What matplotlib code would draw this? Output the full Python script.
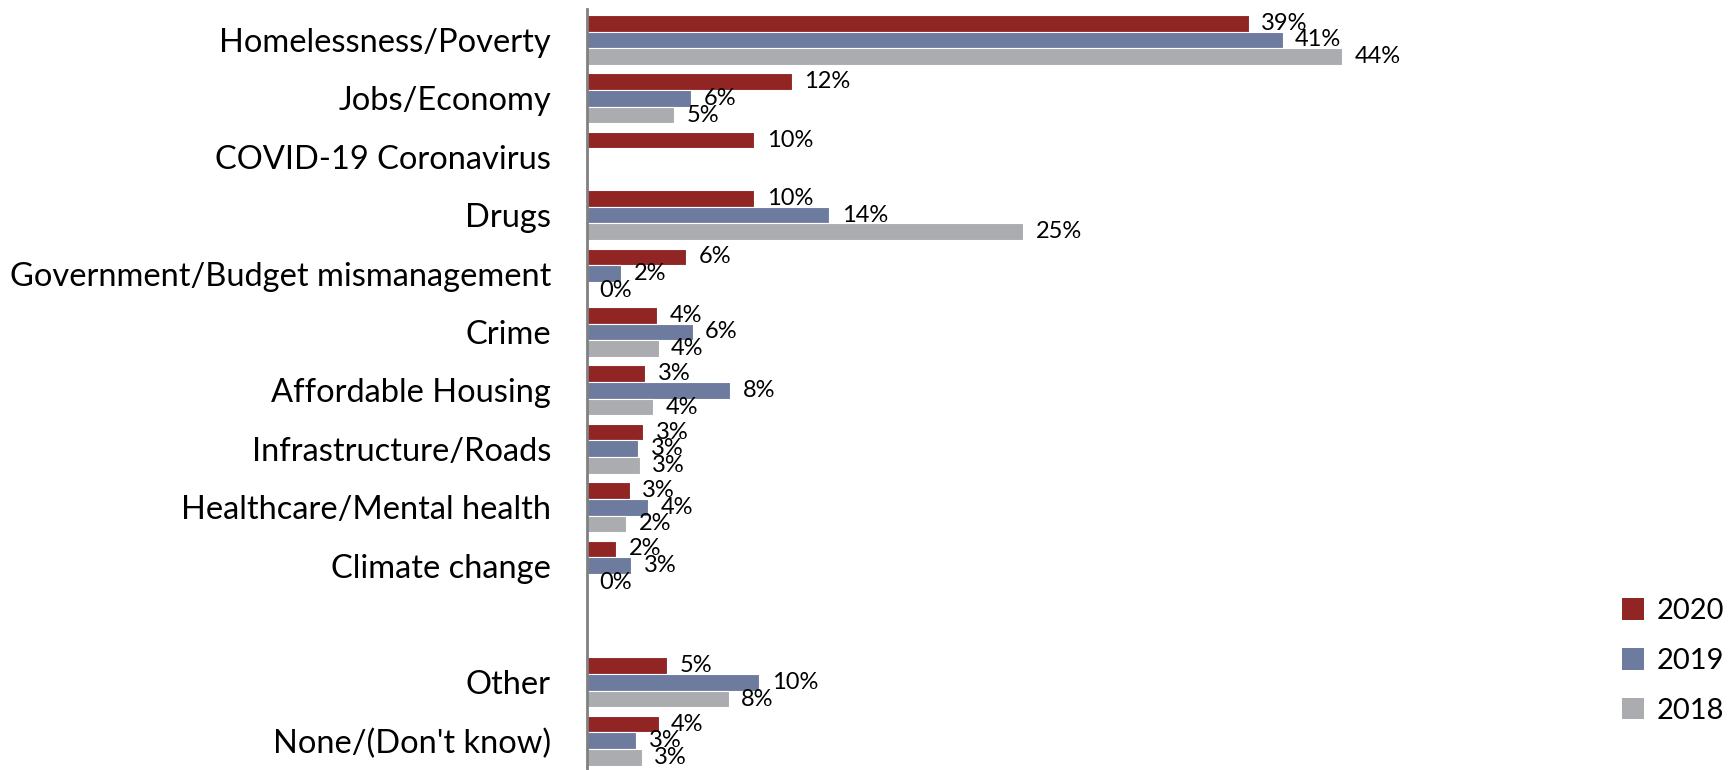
import numpy as np
import matplotlib
matplotlib.use("Agg")
import matplotlib.pyplot as plt
from matplotlib.patches import Patch

plt.rcParams['font.family'] = ['Lato', 'DejaVu Sans']

categories = ["Homelessness/Poverty", "Jobs/Economy", "COVID-19 Coronavirus", "Drugs",
              "Government/Budget mismanagement", "Crime", "Affordable Housing",
              "Infrastructure/Roads", "Healthcare/Mental health", "Climate change",
              "", "Other", "None/(Don't know)"]

v2020 = [38.8, 12.0, 9.8, 9.8, 5.8, 4.1, 3.4, 3.3, 2.5, 1.7, np.nan, 4.7, 4.2]
v2019 = [40.8, 6.1, np.nan, 14.2, 2.0, 6.2, 8.4, 3.0, 3.6, 2.6, np.nan, 10.1, 2.9]
v2018 = [44.3, 5.1, np.nan, 25.6, 0.0, 4.2, 3.9, 3.1, 2.3, 0.0, np.nan, 8.3, 3.2]

l2020 = ["39%", "12%", "10%", "10%", "6%", "4%", "3%", "3%", "3%", "2%", "", "5%", "4%"]
l2019 = ["41%", "6%", "", "14%", "2%", "6%", "8%", "3%", "4%", "3%", "", "10%", "3%"]
l2018 = ["44%", "5%", "", "25%", "0%", "4%", "4%", "3%", "2%", "0%", "", "8%", "3%"]

series = ["2020", "2019", "2018"]
colors = ["#912524", "#6D7B9E", "#ABACB0"]

W, H = 1731, 770
fig = plt.figure(figsize=(W / 100, H / 100), dpi=100)
left_px = 587
width_px = 1000
ax = fig.add_axes([left_px / W, 0.0, width_px / W, 1 - 9 / H])

y = np.arange(len(categories))
h = 0.285
for k, (vals, labs, col) in enumerate(zip([v2020, v2019, v2018], [l2020, l2019, l2018], colors)):
    pos = y + (k - 1) * h
    ax.barh(pos, np.nan_to_num(vals), height=h, color=col, edgecolor="white", linewidth=0.8,
            label=series[k])
    for p, v, t in zip(pos, vals, labs):
        if t:
            ax.annotate(t, (np.nan_to_num(v), p), xytext=(9, 0), textcoords="offset points",
                        ha="left", va="center", fontsize=17, color="black")

ax.set_ylim(12.5, -0.53)
ax.set_xlim(0, width_px / 17.05)
ax.set_yticks(y)
ax.set_yticklabels(categories, fontsize=23.5)
ax.tick_params(axis="y", length=0, pad=26)
ax.set_xticks([])
for s in ["top", "right", "bottom"]:
    ax.spines[s].set_visible(False)
ax.spines["left"].set_color("#808080")
ax.spines["left"].set_linewidth(2)

handles = [Patch(facecolor=c, label=s) for c, s in zip(colors, series)]
fig.legend(handles=handles, loc="center left", bbox_to_anchor=(1622 / W, 1 - 661 / H),
           frameon=False, fontsize=21, handlelength=0.75, handleheight=0.75,
           handletextpad=0.45, labelspacing=0.82, borderaxespad=0, borderpad=0)

fig.savefig("out.png", dpi=100)
